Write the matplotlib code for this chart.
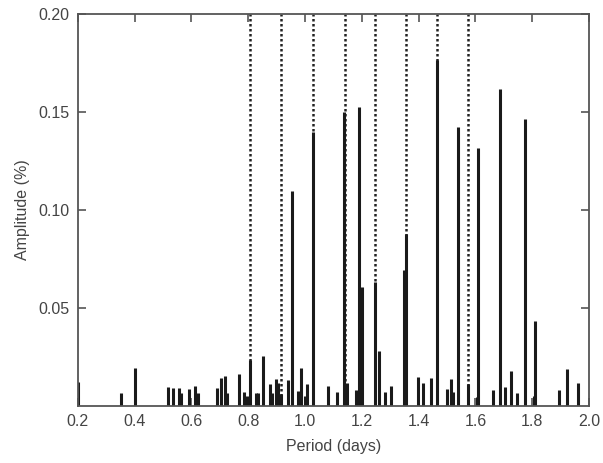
import matplotlib
matplotlib.use("Agg")
import matplotlib.pyplot as plt

# period (days) and amplitude (%) of each peak
periods = [0.200, 0.351, 0.402, 0.517, 0.536, 0.555, 0.564, 0.592, 0.613, 0.622,
           0.690, 0.705, 0.719, 0.727, 0.768, 0.786, 0.795, 0.807, 0.828, 0.836,
           0.852, 0.875, 0.884, 0.899, 0.905, 0.915, 0.940, 0.953, 0.974, 0.984,
           1.001, 1.007, 1.027, 1.082, 1.111, 1.136, 1.146, 1.178, 1.189, 1.199,
           1.245, 1.260, 1.280, 1.301, 1.348, 1.355, 1.396, 1.414, 1.445, 1.463,
           1.501, 1.513, 1.522, 1.538, 1.572, 1.604, 1.609, 1.660, 1.687, 1.705,
           1.725, 1.746, 1.775, 1.805, 1.811, 1.895, 1.922, 1.962]
amps = [0.0125, 0.0068, 0.0192, 0.0099, 0.0090, 0.0090, 0.0066, 0.0085, 0.0104, 0.0065,
        0.0090, 0.0145, 0.0155, 0.0065, 0.0163, 0.0070, 0.0050, 0.0235, 0.0065, 0.0065,
        0.0255, 0.0112, 0.0068, 0.0138, 0.0117, 0.0060, 0.0133, 0.1097, 0.0077, 0.0196,
        0.0050, 0.0112, 0.1398, 0.0102, 0.0070, 0.1500, 0.0116, 0.0082, 0.1527, 0.0609,
        0.0634, 0.0282, 0.0070, 0.0104, 0.0694, 0.0878, 0.0150, 0.0119, 0.0141, 0.1765,
        0.0087, 0.0136, 0.0073, 0.1425, 0.0112, 0.0047, 0.1315, 0.0082, 0.1616, 0.0095,
        0.0180, 0.0065, 0.1464, 0.0050, 0.0435, 0.0082, 0.0189, 0.0116]

# harmonic periods marked with dotted lines
marked = [0.807, 0.915, 1.027, 1.139, 1.245, 1.355, 1.463, 1.574]

plt.rcParams['font.family'] = ['Liberation Sans', 'DejaVu Sans']

fig = plt.figure(figsize=(6.03, 4.63), dpi=100)
ax = fig.add_axes([0.129, 0.123, 0.848, 0.847])

for p in marked:
    ax.plot([p, p], [0, 0.2], color='#222222', linestyle=(0, (1, 1)), linewidth=1.8)

ax.vlines(periods, 0, amps, color='#1a1a1a', linewidth=2.2)

ax.set_xlim(0.2, 2.0)
ax.set_ylim(0, 0.2)
ax.set_xticks([0.2, 0.4, 0.6, 0.8, 1.0, 1.2, 1.4, 1.6, 1.8, 2.0])
ax.set_xticklabels(['0.2', '0.4', '0.6', '0.8', '1.0', '1.2', '1.4', '1.6', '1.8', '2.0'])
ax.set_yticks([0.05, 0.10, 0.15, 0.20])
ax.set_yticklabels(['0.05', '0.10', '0.15', '0.20'])
ax.tick_params(direction='in', top=True, right=True, length=6, width=1.2,
               color='#555555', labelcolor='#444444', labelsize=11.5, pad=6)
for s in ax.spines.values():
    s.set_color('#555555')
    s.set_linewidth(1.3)

ax.set_xlabel('Period (days)', fontsize=11.5, color='#444444', labelpad=7)
ax.set_ylabel('Amplitude (%)', fontsize=11.5, color='#444444', labelpad=6)

fig.savefig('out.png', dpi=100)
